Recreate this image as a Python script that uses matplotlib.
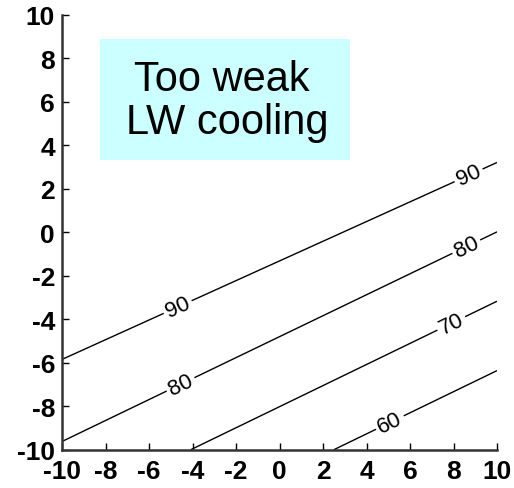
import matplotlib
matplotlib.use('Agg')
import matplotlib.pyplot as plt
from matplotlib.patches import Rectangle
import numpy as np

x_grid = [-10, 10]
y_grid = [-10, 10]
z_grid = [[79.0, 48.6],     # y = -10 : x = -10, x = 10
          [132.0, 111.3]]   # y =  10
levels = [60, 70, 80, 90]

# label positions (data coords)
label_pos = [(-4.7, -3.4), (8.7, 2.6), (-4.5, -7.1), (8.7, -0.9), (7.9, -4.2), (5.1, -8.8)]

ticks = [-10, -8, -6, -4, -2, 0, 2, 4, 6, 8, 10]
box_text = 'Too weak \nLW cooling'

plt.rcParams['font.family'] = ['Liberation Sans', 'DejaVu Sans']
plt.rcParams['axes.unicode_minus'] = False

fig = plt.figure(figsize=(5.14, 4.89), dpi=100)
ax = fig.add_axes([62 / 514, 1 - 450.7 / 489, 435 / 514, 435 / 489])

cs = ax.contour(x_grid, y_grid, np.array(z_grid), levels=levels, colors='k', linewidths=1.0)
ax.clabel(cs, fmt='%d', fontsize=16, inline=True, inline_spacing=3, manual=label_pos)

# cyan text box
ax.add_patch(Rectangle((-8.25, 3.33), 11.5, 5.55, facecolor='#ccffff', edgecolor='none', zorder=3))
ax.text(-2.4, 6.05, box_text, fontsize=30, ha='center', va='center', linespacing=1.1, zorder=4)

ax.set_xlim(-10, 10)
ax.set_ylim(-10, 10)
ax.set_xticks(ticks)
ax.set_yticks(ticks)
ax.spines['top'].set_visible(False)
ax.spines['right'].set_visible(False)
for s in ['left', 'bottom']:
    ax.spines[s].set_linewidth(1.8)
    ax.spines[s].set_color('#333333')
ax.tick_params(direction='in', length=5, width=1, labelsize=19)
ax.tick_params(axis='x', pad=7)
ax.tick_params(axis='y', pad=5)
for lab in ax.get_xticklabels() + ax.get_yticklabels():
    lab.set_fontweight('bold')

fig.savefig('out.png', dpi=100)
